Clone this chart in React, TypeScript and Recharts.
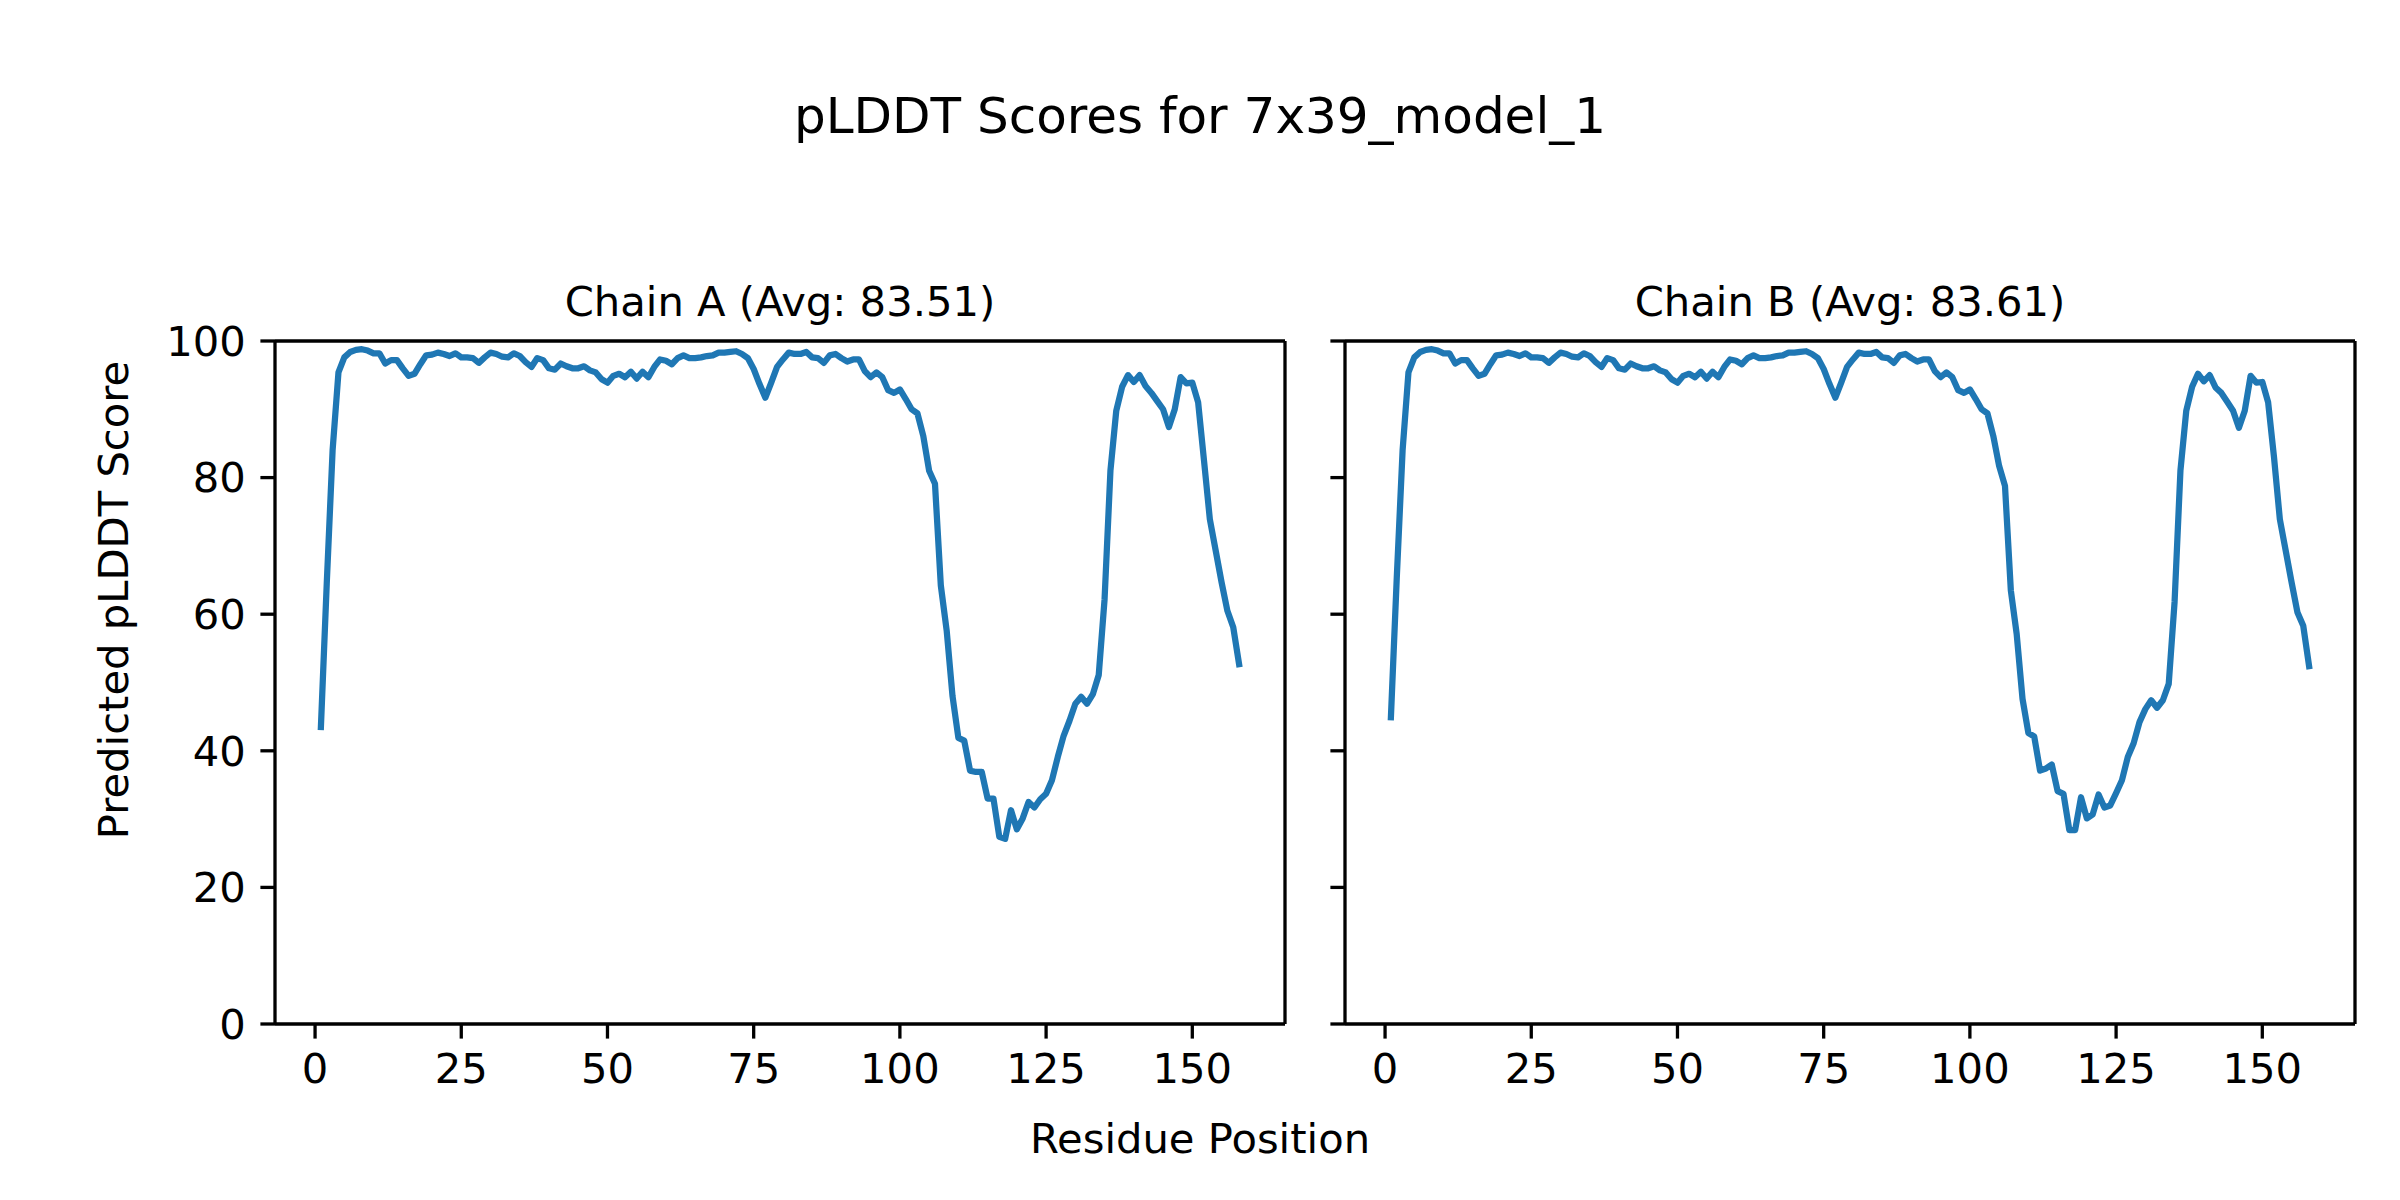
import React from 'react'
import { LineChart, Line, XAxis, YAxis, ReferenceLine } from 'recharts'

// pLDDT per residue (residue 1..158)
const chainAScores = [
  43.5, 64.5, 84.0, 95.4, 97.6, 98.4, 98.7, 98.8, 98.6, 98.2,
  98.2, 96.7, 97.2, 97.2, 96.0, 94.9, 95.2, 96.6, 97.9, 98.0,
  98.3, 98.1, 97.8, 98.2, 97.6, 97.6, 97.5, 96.8, 97.6, 98.3,
  98.1, 97.7, 97.6, 98.2, 97.8, 96.9, 96.2, 97.5, 97.2, 96.0,
  95.8, 96.7, 96.3, 96.0, 96.0, 96.3, 95.7, 95.4, 94.4, 93.9,
  94.9, 95.2, 94.7, 95.5, 94.5, 95.5, 94.7, 96.2, 97.3, 97.1,
  96.6, 97.5, 97.9, 97.5, 97.5, 97.6, 97.8, 97.9, 98.3, 98.3,
  98.4, 98.5, 98.1, 97.5, 95.9, 93.7, 91.7, 93.9, 96.2, 97.3,
  98.3, 98.1, 98.1, 98.4, 97.6, 97.5, 96.8, 97.9, 98.1, 97.5,
  97.0, 97.3, 97.3, 95.6, 94.7, 95.4, 94.7, 92.8, 92.4, 92.9,
  91.5, 90.0, 89.4, 86.1, 81.0, 79.1, 64.2, 57.6, 48.0, 41.9,
  41.5, 37.1, 36.9, 36.9, 33.0, 33.0, 27.4, 27.1, 31.3, 28.5,
  30.1, 32.5, 31.7, 32.9, 33.7, 35.7, 39.1, 42.2, 44.4, 46.9,
  47.9, 46.9, 48.3, 51.1, 62.2, 81.0, 89.8, 93.3, 95.0, 94.0,
  95.0, 93.4, 92.4, 91.2, 90.0, 87.4, 90.0, 94.7, 93.8, 93.9,
  91.0, 82.5, 73.9, 69.3, 64.7, 60.5, 58.1, 52.7,
]

const chainBScores = [
  44.9, 65.3, 84.0, 95.4, 97.6, 98.4, 98.7, 98.8, 98.6, 98.2,
  98.2, 96.7, 97.2, 97.2, 96.0, 94.9, 95.2, 96.6, 97.9, 98.0,
  98.3, 98.1, 97.8, 98.2, 97.6, 97.6, 97.5, 96.8, 97.6, 98.3,
  98.1, 97.7, 97.6, 98.2, 97.8, 96.9, 96.2, 97.5, 97.2, 96.0,
  95.8, 96.7, 96.3, 96.0, 96.0, 96.3, 95.7, 95.4, 94.4, 93.9,
  94.9, 95.2, 94.7, 95.5, 94.5, 95.5, 94.7, 96.2, 97.3, 97.1,
  96.6, 97.5, 97.9, 97.5, 97.5, 97.6, 97.8, 97.9, 98.3, 98.3,
  98.4, 98.5, 98.1, 97.5, 95.9, 93.7, 91.7, 93.9, 96.2, 97.3,
  98.3, 98.1, 98.1, 98.4, 97.6, 97.5, 96.8, 97.9, 98.1, 97.5,
  97.0, 97.3, 97.3, 95.6, 94.7, 95.4, 94.7, 92.8, 92.4, 92.9,
  91.5, 90.0, 89.4, 86.1, 81.7, 78.8, 63.5, 57.1, 47.6, 42.6,
  42.1, 37.1, 37.4, 38.0, 34.1, 33.7, 28.4, 28.4, 33.2, 30.1,
  30.7, 33.6, 31.7, 32.0, 33.8, 35.7, 39.1, 41.1, 44.2, 46.1,
  47.4, 46.3, 47.4, 49.8, 61.8, 81.0, 89.8, 93.3, 95.2, 94.1,
  95.0, 93.2, 92.4, 91.1, 89.8, 87.3, 89.8, 94.9, 93.9, 94.0,
  91.0, 83.0, 73.9, 69.3, 64.7, 60.3, 58.3, 52.4,
]

const xTicks = [0, 25, 50, 75, 100, 125, 150]
const yTicks = [0, 20, 40, 60, 80, 100]
const xDomain = [-6.85, 165.85]

const FONT = 'DejaVu Sans, sans-serif'
const TICK_PX = 41.7
const LINE_BLUE = '#1f77b4'
const SPINE = 3.3

const toRows = (scores: number[]) => scores.map((score, i) => ({ residue: i + 1, score }))

// shared y axis: keep the tick marks, drop the labels
const NoLabel = () => <g />

interface PanelProps {
  scores: number[]
  left: number
  width: number
  yWidth: number
  rightMargin: number
  showYLabels: boolean
}

function Panel({ scores, left, width, yWidth, rightMargin, showYLabels }: PanelProps) {
  const tickStyle = { fill: '#000', fontSize: TICK_PX, fontFamily: FONT }
  return (
    <div style={{ position: 'absolute', left, top: 0 }}>
      <LineChart
        width={width}
        height={1200}
        data={toRows(scores)}
        margin={{ top: 341, right: rightMargin, bottom: 0, left: 0 }}
      >
        <XAxis
          dataKey="residue"
          type="number"
          domain={xDomain}
          ticks={xTicks}
          allowDataOverflow
          height={176}
          tickSize={14.6}
          tickMargin={15}
          tick={tickStyle}
          axisLine={{ stroke: '#000', strokeWidth: SPINE }}
          tickLine={{ stroke: '#000', strokeWidth: SPINE }}
        />
        <YAxis
          type="number"
          domain={[0, 100]}
          ticks={yTicks}
          allowDataOverflow
          width={yWidth}
          tickSize={14.6}
          tickMargin={14.6}
          tick={showYLabels ? tickStyle : NoLabel}
          axisLine={{ stroke: '#000', strokeWidth: SPINE }}
          tickLine={{ stroke: '#000', strokeWidth: SPINE }}
        />
        <ReferenceLine y={100} stroke="#000" strokeWidth={SPINE} />
        <ReferenceLine x={xDomain[1]} stroke="#000" strokeWidth={SPINE} />
        <Line
          type="linear"
          dataKey="score"
          stroke={LINE_BLUE}
          strokeWidth={6.25}
          strokeLinejoin="round"
          strokeLinecap="square"
          dot={false}
          activeDot={false}
          isAnimationActive={false}
        />
      </LineChart>
    </div>
  )
}

export default function App() {
  return (
    <div
      style={{
        position: 'absolute',
        left: 0,
        top: 0,
        width: 2400,
        height: 1200,
        background: '#fff',
        overflow: 'hidden',
      }}
    >
      <Panel scores={chainAScores} left={0} width={1320} yWidth={275} rightMargin={35} showYLabels />
      <Panel scores={chainBScores} left={1300} width={1100} yWidth={45} rightMargin={45} showYLabels={false} />
      <svg
        width={2400}
        height={1200}
        style={{ position: 'absolute', left: 0, top: 0, pointerEvents: 'none' }}
        fontFamily={FONT}
      >
        <text x={1200} y={133} textAnchor="middle" fontSize={50} fill="#000">
          pLDDT Scores for 7x39_model_1
        </text>
        <text x={780} y={316} textAnchor="middle" fontSize={TICK_PX} fill="#000">
          Chain A (Avg: 83.51)
        </text>
        <text x={1850} y={316} textAnchor="middle" fontSize={TICK_PX} fill="#000">
          Chain B (Avg: 83.61)
        </text>
        <text x={1200} y={1153} textAnchor="middle" fontSize={TICK_PX} fill="#000">
          Residue Position
        </text>
        <text
          x={0}
          y={0}
          transform="translate(128,600) rotate(-90)"
          textAnchor="middle"
          fontSize={TICK_PX}
          fill="#000"
        >
          Predicted pLDDT Score
        </text>
      </svg>
    </div>
  )
}
